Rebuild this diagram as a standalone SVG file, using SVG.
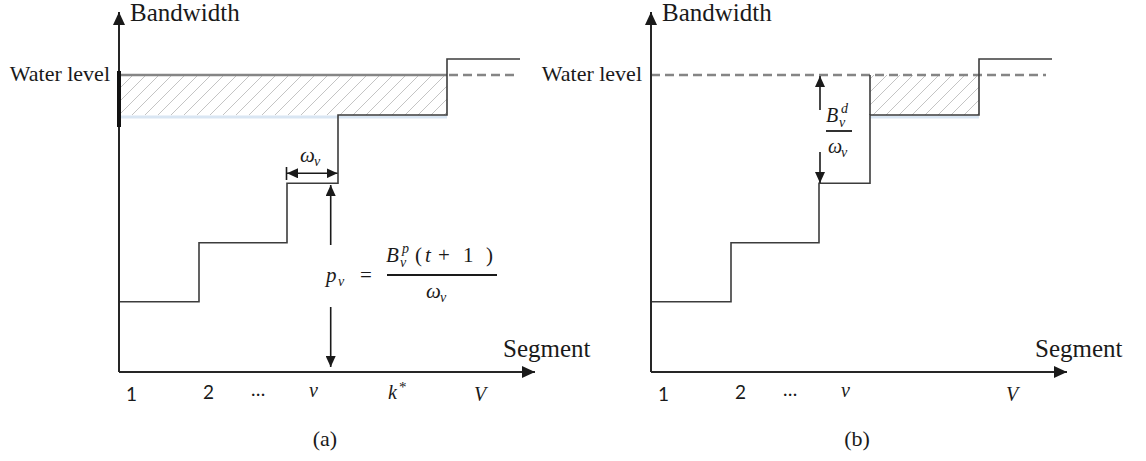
<svg xmlns="http://www.w3.org/2000/svg" width="1146" height="461" viewBox="0 0 1146 461">
<style>
.axis{stroke:#262626;stroke-width:2;fill:none}
.step{stroke:#3c3c3c;stroke-width:1.6;fill:none}
.water{stroke:#858585;stroke-width:2.6;fill:none}
.dash{stroke-dasharray:9 5}
.glow{stroke:#d9e6f3;stroke-width:3;fill:none}
.conn{stroke:#1a1a1a;stroke-width:1.6;fill:none}
.bar{stroke:#1a1a1a;stroke-width:1.8}
</style>
<defs>
<pattern id="hatch" patternUnits="userSpaceOnUse" width="13" height="13">
<path d="M0,13 L13,0 M-3,3 L3,-3 M10,16 L16,10" stroke="#c4c4c4" stroke-width="1"/>
</pattern>
<marker id="ah" markerUnits="userSpaceOnUse" markerWidth="12" markerHeight="10" refX="11" refY="5" orient="auto">
<path d="M0,0 L11,5 L0,10 z" fill="#1a1a1a"/>
</marker>
<marker id="ahs" markerUnits="userSpaceOnUse" markerWidth="12" markerHeight="10" refX="1" refY="5" orient="auto">
<path d="M12,0 L1,5 L12,10 z" fill="#1a1a1a"/>
</marker>
<marker id="axh" markerUnits="userSpaceOnUse" markerWidth="14" markerHeight="12" refX="13" refY="6" orient="auto">
<path d="M0,0 L13,6 L0,12 z" fill="#1a1a1a"/>
</marker>
</defs>

<g id="panel-a">
<rect x="119" y="75" width="328" height="40" fill="url(#hatch)"/>
<line class="glow" x1="119" y1="117" x2="447" y2="117"/>
<line class="water" x1="119" y1="75" x2="447" y2="75"/>
<line class="water dash" x1="449" y1="75" x2="514" y2="75"/>
<path class="step" d="M119,301.7 H199 V242.7 H287 V183.3 H338 V115 H447 V59 H520"/>
<line class="axis" x1="119" y1="372" x2="119" y2="12" marker-end="url(#axh)"/>
<line class="axis" x1="119" y1="372" x2="535" y2="372" marker-end="url(#axh)"/>
<line x1="119" y1="71" x2="119" y2="127" stroke="#111" stroke-width="4"/>
<text font-family="Liberation Serif" font-size="25" fill="#1a1a1a" x="130" y="21">Bandwidth</text>
<text font-family="Liberation Serif" font-size="22" fill="#1a1a1a" x="110" y="81" text-anchor="end">Water level</text>
<text font-family="Liberation Serif" font-size="25" fill="#1a1a1a" x="503" y="357">Segment</text>
<text font-family="Liberation Serif" font-size="22" fill="#1a1a1a" x="325" y="446" text-anchor="middle">(a)</text>
<text font-family="Lato" font-size="19" fill="#1a1a1a" x="126" y="401">1</text>
<text font-family="Lato" font-size="19" fill="#1a1a1a" x="203" y="399">2</text>
<text font-family="Lato" font-size="19" fill="#1a1a1a" x="251" y="396">…</text>
<text font-family="Liberation Serif" font-style="italic" font-size="20" fill="#1a1a1a" x="309" y="397">v</text>
<text font-family="Liberation Serif" font-style="italic" font-size="20" fill="#1a1a1a" x="388" y="399">k</text>
<text font-family="Liberation Serif" font-size="15" fill="#1a1a1a" x="399" y="392">*</text>
<text font-family="Liberation Serif" font-style="italic" font-size="20" fill="#1a1a1a" x="474" y="401">V</text>
<text font-family="Liberation Serif" font-style="italic" font-size="21" fill="#1a1a1a" x="300" y="162">ω</text>
<text font-family="Liberation Serif" font-style="italic" font-size="14" fill="#1a1a1a" x="314" y="166">v</text>
<text font-family="Liberation Serif" font-style="italic" font-size="21" fill="#1a1a1a" x="326" y="282">p</text>
<text font-family="Liberation Serif" font-style="italic" font-size="14" fill="#1a1a1a" x="338" y="286">v</text>
<text font-family="Liberation Serif" font-size="21" fill="#1a1a1a" x="360" y="282">=</text>
<text font-family="Liberation Serif" font-style="italic" font-size="21" fill="#1a1a1a" x="386" y="262">B</text>
<text font-family="Liberation Serif" font-style="italic" font-size="14" fill="#1a1a1a" x="402" y="253">p</text>
<text font-family="Liberation Serif" font-style="italic" font-size="14" fill="#1a1a1a" x="400" y="267">v</text>
<text font-family="Liberation Serif" font-size="21" fill="#1a1a1a" x="415" y="262">(</text>
<text font-family="Liberation Serif" font-style="italic" font-size="21" fill="#1a1a1a" x="425" y="262">t</text>
<text font-family="Liberation Serif" font-size="21" fill="#1a1a1a" x="438" y="262">+</text>
<text font-family="Liberation Serif" font-size="21" fill="#1a1a1a" x="463" y="262">1</text>
<text font-family="Liberation Serif" font-size="21" fill="#1a1a1a" x="486" y="262">)</text>
<line class="bar" x1="387" y1="275" x2="497" y2="275"/>
<text font-family="Liberation Serif" font-style="italic" font-size="21" fill="#1a1a1a" x="426" y="298">ω</text>
<text font-family="Liberation Serif" font-style="italic" font-size="14" fill="#1a1a1a" x="440" y="302">v</text>
</g>

<g id="panel-b">
<rect x="870" y="75" width="109" height="40" fill="url(#hatch)"/>
<line class="glow" x1="870" y1="117" x2="979" y2="117"/>
<line class="water dash" x1="651" y1="75" x2="1046" y2="75"/>
<line class="step" x1="870" y1="75" x2="870" y2="115" stroke-width="1.2"/>
<path class="step" d="M651,301.7 H731 V242.7 H819 V183.3 H870 V115 H979 V59 H1052"/>
<line class="axis" x1="651" y1="372" x2="651" y2="12" marker-end="url(#axh)"/>
<line class="axis" x1="651" y1="372" x2="1067" y2="372" marker-end="url(#axh)"/>
<text font-family="Liberation Serif" font-size="25" fill="#1a1a1a" x="662" y="21">Bandwidth</text>
<text font-family="Liberation Serif" font-size="22" fill="#1a1a1a" x="642" y="81" text-anchor="end">Water level</text>
<text font-family="Liberation Serif" font-size="25" fill="#1a1a1a" x="1035" y="357">Segment</text>
<text font-family="Liberation Serif" font-size="22" fill="#1a1a1a" x="857" y="446" text-anchor="middle">(b)</text>
<text font-family="Lato" font-size="19" fill="#1a1a1a" x="658" y="401">1</text>
<text font-family="Lato" font-size="19" fill="#1a1a1a" x="735" y="399">2</text>
<text font-family="Lato" font-size="19" fill="#1a1a1a" x="783" y="396">…</text>
<text font-family="Liberation Serif" font-style="italic" font-size="20" fill="#1a1a1a" x="841" y="397">v</text>
<text font-family="Liberation Serif" font-style="italic" font-size="20" fill="#1a1a1a" x="1006" y="401">V</text>
<text font-family="Liberation Serif" font-style="italic" font-size="20" fill="#1a1a1a" x="826" y="122">B</text>
<text font-family="Liberation Serif" font-style="italic" font-size="14" fill="#1a1a1a" x="841" y="113">d</text>
<text font-family="Liberation Serif" font-style="italic" font-size="14" fill="#1a1a1a" x="839" y="127">v</text>
<line class="bar" x1="826" y1="131" x2="852" y2="131"/>
<text font-family="Liberation Serif" font-style="italic" font-size="20" fill="#1a1a1a" x="828" y="153">ω</text>
<text font-family="Liberation Serif" font-style="italic" font-size="14" fill="#1a1a1a" x="841" y="157">v</text>
</g>

<g id="connectors">
<line class="conn" x1="287" y1="173.3" x2="337.5" y2="173.3" marker-start="url(#ahs)" marker-end="url(#ah)"/>
<line class="conn" x1="286.5" y1="167" x2="286.5" y2="180"/>
<line class="conn" x1="330.7" y1="245" x2="330.7" y2="185" marker-end="url(#ah)"/>
<line class="conn" x1="330.7" y1="307" x2="330.7" y2="367" marker-end="url(#ah)"/>
<line class="conn" x1="820" y1="110" x2="820" y2="76" marker-end="url(#ah)"/>
<line class="conn" x1="820" y1="152" x2="820" y2="183" marker-end="url(#ah)"/>
</g>
</svg>
